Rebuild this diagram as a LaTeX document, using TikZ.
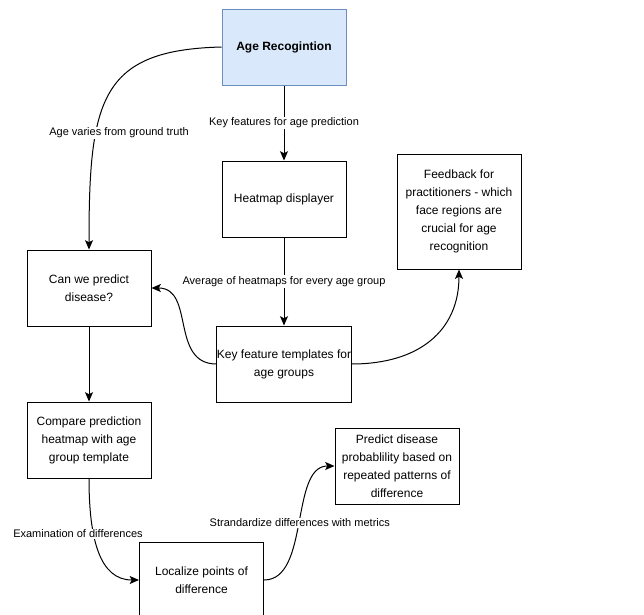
\documentclass[tikz,border=0pt]{standalone}
\usepackage{fontspec}
\setmainfont{Liberation Sans}
\usetikzlibrary{arrows.meta}
\definecolor{agefill}{HTML}{DAE8FC}
\definecolor{ageline}{HTML}{6C8EBF}
\begin{document}
\begin{tikzpicture}[x=0.75pt,y=-0.75pt,
  box/.style={draw, line width=0.75pt, minimum width=93pt, minimum height=57pt, inner sep=0pt, align=center, font=\fontsize{9}{13.5}\selectfont},
  lbl/.style={fill=white, inner sep=1pt, font=\fontsize{8.25}{10}\selectfont},
  arr/.style={line width=0.75pt, -{Stealth[length=7pt,width=6pt,inset=1.5pt]}}]
\useasboundingbox (0,0) rectangle (644,615);
\node[box, fill=agefill, draw=ageline, font=\bfseries\fontsize{9}{13.5}\selectfont] (age) at (284,47) {Age Recogintion};
\node[box] (heat) at (284,199) {Heatmap displayer};
\node[box, minimum height=86.25pt] (feed) at (459,211.5) {Feedback for\\practitioners - which\\face regions are\\crucial for age\\recognition};
\node[box] (can) at (89,288) {Can we predict\\disease?};
\node[box] (keyf) at (284,364) {Key feature templates for\\age groups};
\node[box] (comp) at (89,440) {Compare prediction\\heatmap with age\\group template};
\node[box] (pred) at (397,466) {Predict disease\\probablility based on\\repeated patterns of\\difference};
\node[box] (loc) at (201.5,580) {Localize points of\\difference};
\path[draw,arr] (age) -- node[lbl] {Key features for age prediction} (heat);
\path[draw,arr] (heat) -- node[lbl] {Average of heatmaps for every age group} (keyf);
\path[draw,arr] (can) -- (comp);
\path[draw,arr] (age.west) .. controls (100,50) and (89,100) .. (can.north) node[lbl] at (119,133) {Age varies from ground truth};
\path[draw,arr] (keyf.west) .. controls (170,364) and (195,288) .. (can.east);
\path[draw,arr] (keyf.east) .. controls (420,364) and (459,330) .. (feed.south);
\path[draw,arr] (comp.south) .. controls (89,540) and (100,580) .. (loc.west) node[lbl] at (78,534) {Examination of differences};
\path[draw,arr] (loc.east) .. controls (310,580) and (290,466) .. node[lbl] {Strandardize differences with metrics} (pred.west);
\end{tikzpicture}
\end{document}
